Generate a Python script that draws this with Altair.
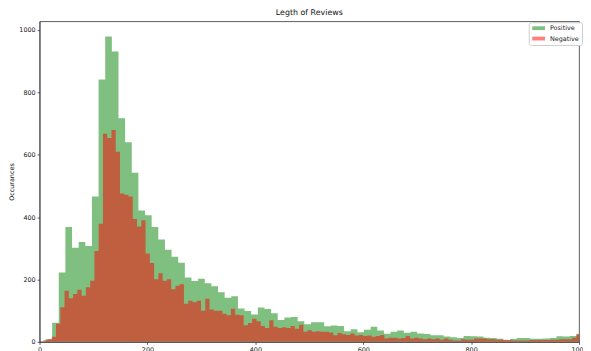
import altair as alt
import pandas as pd

TITLE = "Legth of Reviews"
Y_LABEL = "Occurances"
SERIES = ["Positive", "Negative"]
SERIES_COLORS = ["#008000", "#ff0000"]

# bin layout of the two histograms (in review-length units)
POS_BIN_START = 11.0
POS_BIN_WIDTH = 12.3
NEG_BIN_START = 6.8
NEG_BIN_WIDTH = 7.905

POS_COUNTS = [
    8, 61, 222, 368, 302, 320, 307, 466, 841, 979,
    931, 717, 640, 542, 421, 406, 368, 328, 295, 273,
    254, 206, 195, 202, 188, 178, 159, 141, 146, 107,
    99, 88, 110, 105, 92, 70, 78, 80, 66, 56,
    63, 63, 50, 52, 51, 34, 40, 31, 39, 48,
    36, 26, 32, 36, 29, 32, 27, 25, 21, 21,
    17, 15, 12, 19, 18, 17, 13, 12, 10, 5,
    9, 12, 12, 10, 10, 11, 12, 18, 17, 19,
    26,
]

NEG_COUNTS = [
    5, 8, 16, 58, 111, 164, 140, 153, 167, 148,
    175, 196, 291, 379, 667, 654, 679, 610, 476, 472,
    466, 394, 370, 390, 283, 253, 201, 220, 196, 201,
    169, 180, 185, 122, 132, 127, 132, 100, 138, 104,
    100, 100, 90, 85, 106, 87, 85, 53, 60, 74,
    66, 51, 44, 69, 48, 44, 47, 44, 51, 42,
    55, 32, 37, 32, 34, 32, 32, 30, 21, 28,
    24, 22, 27, 20, 22, 19, 20, 16, 19, 22,
    11, 13, 13, 11, 12, 19, 11, 13, 11, 8,
    11, 8, 11, 7, 11, 7, 4, 4, 8, 7,
    7, 11, 11, 11, 8, 8, 7, 7, 7, 6,
    4, 4, 4, 4, 6, 6, 6, 6, 6, 7,
    7, 8, 8, 8, 13, 23,
]

X_TICKS = [0, 200, 400, 600, 800, 1000]
Y_TICKS = [0, 200, 400, 600, 800, 1000]
X_DOMAIN = [0, 1000]
Y_DOMAIN = [0, 1028]


def step_rows(name, start, width, counts):
    out = []
    for i, c in enumerate(counts):
        out.append({"series": name, "edge": start + i * width, "count": c})
    out.append({"series": name, "edge": start + len(counts) * width, "count": counts[-1]})
    return out


df = pd.DataFrame(
    step_rows("Positive", POS_BIN_START, POS_BIN_WIDTH, POS_COUNTS)
    + step_rows("Negative", NEG_BIN_START, NEG_BIN_WIDTH, NEG_COUNTS)
)

FONT = "DejaVu Sans"

color = alt.Color(
    "series:N",
    scale=alt.Scale(domain=SERIES, range=SERIES_COLORS),
    legend=alt.Legend(
        title=None,
        orient="none",
        legendX=496,
        legendY=1,
        padding=2.5,
        strokeColor="#cccccc",
        fillColor="white",
        cornerRadius=2,
        symbolType="M-2,-0.6L2,-0.6L2,0.6L-2,0.6Z",
        symbolSize=42,
        symbolOffset=4,
        symbolOpacity=0.5,
        symbolStrokeWidth=0,
        labelFontSize=6.5,
        labelFont=FONT,
        labelColor="#222222",
        labelOffset=8,
        rowPadding=3.5,
    ),
)

x_enc = alt.X(
    "edge:Q",
    scale=alt.Scale(domain=X_DOMAIN, nice=False, zero=False),
    axis=alt.Axis(values=X_TICKS, title=None, format="d", labelFlush=False),
)
y_enc = alt.Y(
    "count:Q",
    stack=None,
    scale=alt.Scale(domain=Y_DOMAIN, nice=False),
    axis=alt.Axis(values=Y_TICKS, title=Y_LABEL, format="d", titlePadding=4),
)

pos = (
    alt.Chart(df)
    .transform_filter(alt.datum.series == "Positive")
    .mark_area(opacity=0.5, clip=True, interpolate="step-after")
    .encode(x=x_enc, y=y_enc, color=color)
)
neg = (
    alt.Chart(df)
    .transform_filter(alt.datum.series == "Negative")
    .mark_area(opacity=0.5, clip=True, interpolate="step-after")
    .encode(x=x_enc, y=y_enc, color=color)
)

chart = (
    alt.layer(pos, neg)
    .properties(
        width=547,
        height=325,
        title=alt.Title(TITLE, fontSize=8, font=FONT, fontWeight="normal", color="#111111", offset=4),
        padding={"left": 32, "top": 11, "right": 4, "bottom": 20},
        autosize="none",
    )
    .configure_view(stroke="#333333", strokeWidth=0.8)
    .configure_axis(
        labelFont=FONT,
        labelFontSize=6.5,
        labelColor="#222222",
        titleFont=FONT,
        titleFontSize=6.5,
        titleFontWeight="normal",
        titleColor="#111111",
        tickSize=2.5,
        tickColor="#333333",
        tickWidth=0.8,
        domainColor="#333333",
        domainWidth=0.8,
        labelPadding=2,
        grid=False,
    )
)

chart.save("out.html", embed_options={"renderer": "svg", "actions": False})
